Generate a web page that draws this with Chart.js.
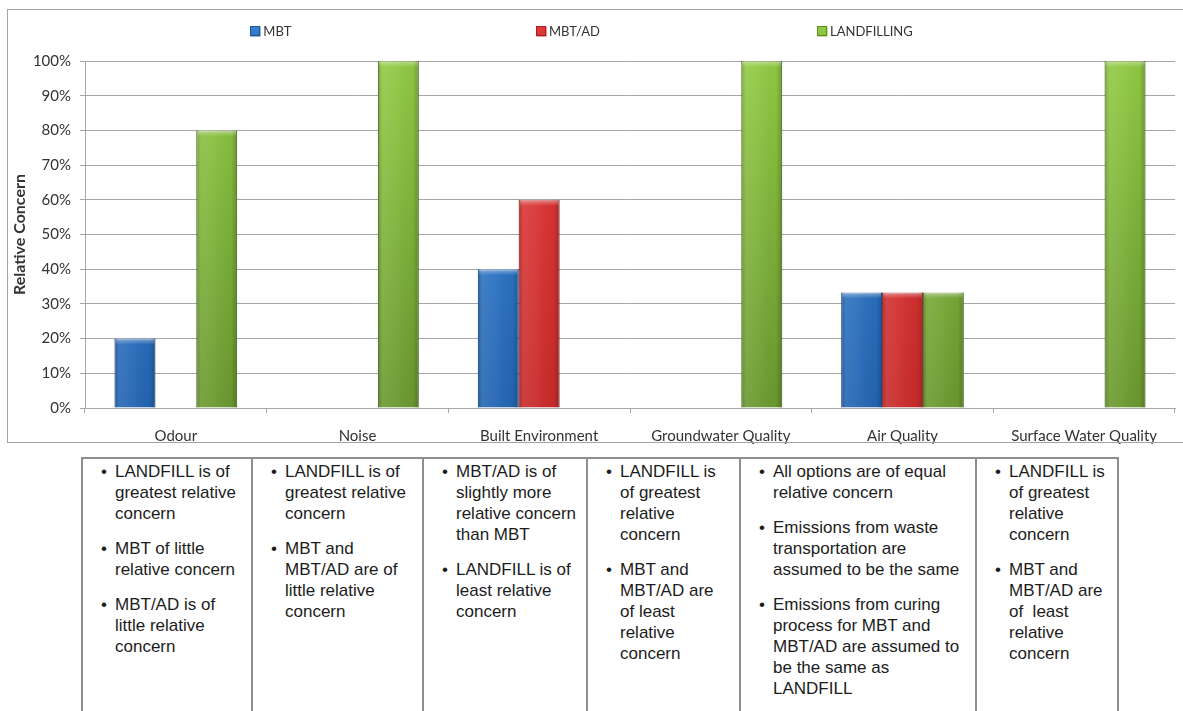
<!DOCTYPE html>
<html>
<head>
<meta charset="utf-8">
<script src="https://cdn.jsdelivr.net/npm/chart.js@4.4.0/dist/chart.umd.min.js"></script>
<style>
  html, body { margin: 0; padding: 0; background: #fff; width: 1183px; height: 711px; overflow: hidden; position: relative; }
  #frame { position: absolute; left: 7px; top: 9px; width: 1200px; height: 434px; border: 1px solid #a3a3a3; box-sizing: border-box; pointer-events: none; z-index: 2; }
  #chartBox { position: absolute; left: 8px; top: 10px; width: 1198px; height: 436px; }
  #notes { position: absolute; left: 81px; top: 457px; border-collapse: collapse; table-layout: fixed; width: 1038px;
           font-family: "Liberation Sans", Arial, sans-serif; font-size: 17px; line-height: 21px; color: #1c1c1c; }
  #notes td { border: 2px solid #8e8e8e; border-bottom: none; vertical-align: top; padding: 2px 0 0 0; height: 270px; }
  #notes ul { list-style: none; margin: 0; padding: 0; }
  #notes li { position: relative; padding-left: 32px; margin-bottom: 14px; white-space: nowrap; }
  #notes li::before { content: "\2022"; position: absolute; left: 18px; top: 0; }
</style>
</head>
<body>
<div id="chartBox"><canvas id="chart"></canvas></div>
<div id="frame"></div>

<table id="notes">
  <colgroup>
    <col style="width:170px"><col style="width:171px"><col style="width:164px">
    <col style="width:153px"><col style="width:236px"><col style="width:142px">
  </colgroup>
  <tr>
    <td><ul>
      <li>LANDFILL is of<br>greatest relative<br>concern</li>
      <li>MBT of little<br>relative concern</li>
      <li>MBT/AD is of<br>little relative<br>concern</li>
    </ul></td>
    <td><ul>
      <li>LANDFILL is of<br>greatest relative<br>concern</li>
      <li>MBT and<br>MBT/AD are of<br>little relative<br>concern</li>
    </ul></td>
    <td><ul>
      <li>MBT/AD is of<br>slightly more<br>relative concern<br>than MBT</li>
      <li>LANDFILL is of<br>least relative<br>concern</li>
    </ul></td>
    <td><ul>
      <li>LANDFILL is<br>of greatest<br>relative<br>concern</li>
      <li>MBT and<br>MBT/AD are<br>of least<br>relative<br>concern</li>
    </ul></td>
    <td><ul>
      <li>All options are of equal<br>relative concern</li>
      <li>Emissions from waste<br>transportation are<br>assumed to be the same</li>
      <li>Emissions from curing<br>process for MBT and<br>MBT/AD are assumed to<br>be the same as<br>LANDFILL</li>
    </ul></td>
    <td><ul>
      <li>LANDFILL is<br>of greatest<br>relative<br>concern</li>
      <li>MBT and<br>MBT/AD are<br>of &nbsp;least<br>relative<br>concern</li>
    </ul></td>
  </tr>
</table>

<script>
// Impact categories along the x axis
const categories = ['Odour', 'Noise', 'Built Environment', 'Groundwater Quality', 'Air Quality', 'Surface Water Quality'];

// Relative concern per option, in percent
const mbtValues         = [20, 0, 40, 0, 33.3, 0];
const mbtAdValues       = [0, 0, 60, 0, 33.3, 0];
const landfillingValues = [80, 100, 0, 100, 33.3, 100];

const seriesNames = ['MBT', 'MBT/AD', 'LANDFILLING'];

// Y axis tick values (percent)
const yTickValues = [0, 10, 20, 30, 40, 50, 60, 70, 80, 90, 100];

// Colour ramps per series: [top, bottom, edge, legend]
const palette = {
  'MBT':         ['#3785d4', '#2364b2', '#1d5596', '#2f72c4'],
  'MBT/AD':      ['#e53a3a', '#c82a2a', '#a81f1f', '#d63434'],
  'LANDFILLING': ['#90c943', '#6a982f', '#5f8a2a', '#8cc240']
};

function verticalFill(name) {
  return (context) => {
    const chart = context.chart;
    const area = chart.chartArea;
    const c = palette[name];
    if (!area) return c[0];
    const g = chart.ctx.createLinearGradient(0, area.top, 0, area.bottom);
    g.addColorStop(0, c[0]);
    g.addColorStop(1, c[1]);
    return g;
  };
}

// Glossy side shading and a light top bevel on every bar
const barShading = {
  id: 'barShading',
  afterDatasetsDraw(chart) {
    const ctx = chart.ctx;
    chart.data.datasets.forEach((ds, di) => {
      const meta = chart.getDatasetMeta(di);
      meta.data.forEach((bar) => {
        const { x, y, base, width } = bar.getProps(['x', 'y', 'base', 'width'], true);
        const h = base - y;
        if (!(h > 0.5)) return;
        const left = x - width / 2;
        ctx.save();
        const g = ctx.createLinearGradient(left, 0, left + width, 0);
        g.addColorStop(0, 'rgba(0,0,0,0.20)');
        g.addColorStop(0.12, 'rgba(255,255,255,0.10)');
        g.addColorStop(0.45, 'rgba(255,255,255,0.05)');
        g.addColorStop(0.85, 'rgba(0,0,0,0.02)');
        g.addColorStop(1, 'rgba(0,0,0,0.22)');
        ctx.fillStyle = g;
        ctx.fillRect(left, y, width, h);
        const t = ctx.createLinearGradient(0, y, 0, y + 6);
        t.addColorStop(0, 'rgba(255,255,255,0.40)');
        t.addColorStop(1, 'rgba(255,255,255,0)');
        ctx.fillStyle = t;
        ctx.fillRect(left + 1, y, width - 2, Math.min(6, h));
        ctx.restore();
      });
    });
  }
};

// Legend with items spread evenly across the plot width
const spreadLegend = {
  id: 'spreadLegend',
  afterDraw(chart, args, opts) {
    const ctx = chart.ctx;
    const area = chart.chartArea;
    ctx.save();
    ctx.font = opts.fontSize + 'px ' + opts.fontFamily;
    ctx.textBaseline = 'middle';
    ctx.textAlign = 'left';
    chart.data.datasets.forEach((ds, i) => {
      const cx = area.left + area.width * (opts.start + opts.step * i);
      const tw = ctx.measureText(ds.label).width;
      const w = opts.box + opts.gap + tw;
      const x0 = cx - w / 2;
      const c = palette[ds.label];
      const bx = Math.round(x0) + 0.5, by = Math.round(opts.y - opts.box / 2) + 0.5;
      const g = ctx.createLinearGradient(0, by, 0, by + opts.box);
      g.addColorStop(0, c[0]);
      g.addColorStop(1, c[3]);
      ctx.fillStyle = g;
      ctx.fillRect(bx, by, opts.box, opts.box);
      ctx.strokeStyle = c[2];
      ctx.lineWidth = 1;
      ctx.strokeRect(bx, by, opts.box - 1, opts.box - 1);
      ctx.fillStyle = '#333';
      ctx.fillText(ds.label, x0 + opts.box + opts.gap, opts.y + 1);
    });
    ctx.restore();
  }
};

const seriesValues = [mbtValues, mbtAdValues, landfillingValues];

new Chart(document.getElementById('chart'), {
  type: 'bar',
  data: {
    labels: categories,
    datasets: seriesNames.map((name, i) => ({
      label: name,
      data: seriesValues[i],
      backgroundColor: verticalFill(name),
      borderColor: palette[name][2],
      borderWidth: 1,
      borderSkipped: 'bottom',
      categoryPercentage: 0.675,
      barPercentage: 1.0
    }))
  },
  options: {
    responsive: true,
    maintainAspectRatio: false,
    animation: false,
    layout: { padding: { left: 0, top: 51, right: 31, bottom: 0 } },
    plugins: {
      legend: { display: false },
      tooltip: { enabled: false },
      spreadLegend: { y: 21, start: 0.1705, step: 0.2725, box: 10, gap: 3, fontSize: 13, fontFamily: 'Lato' }
    },
    scales: {
      x: {
        offset: true,
        afterFit: (scale) => { scale.height = 38; },
        grid: { drawOnChartArea: false, drawTicks: true, tickLength: 5, color: '#a8a8a8', offset: true },
        border: { color: '#a8a8a8' },
        ticks: { padding: 14, color: '#333', font: { family: 'Lato', size: 15 }, maxRotation: 0, autoSkip: false }
      },
      y: {
        min: 0,
        max: 100,
        afterFit: (scale) => { scale.width = 77; },
        afterBuildTicks: (scale) => { scale.ticks = yTickValues.map(v => ({ value: v })); },
        grid: { color: '#a6a6a6', tickLength: 5 },
        border: { color: '#a8a8a8' },
        ticks: { padding: 9, color: '#333', font: { family: 'Lato', size: 15 }, callback: (v) => v + '%' },
        title: { display: true, text: 'Relative Concern', color: '#333', font: { family: 'Lato', size: 16, weight: 'bold' }, padding: { top: 2, bottom: 0 } }
      }
    }
  },
  plugins: [barShading, spreadLegend]
});
</script>
</body>
</html>
